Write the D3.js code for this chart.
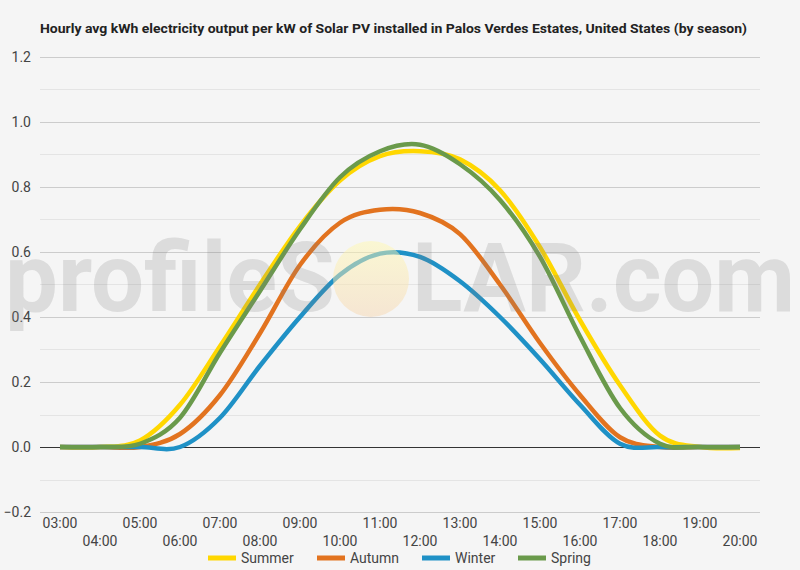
<!DOCTYPE html>
<html>
<head>
<meta charset="utf-8">
<script src="https://cdn.jsdelivr.net/npm/d3@7"></script>
<style>
  body { margin: 0; background: #f5f5f5; }
  text { font-family: Roboto, "Noto Sans", sans-serif; }
</style>
</head>
<body>
<div id="chart"></div>
<script>
// hours on the x axis
var hours = ["03:00", "04:00", "05:00", "06:00", "07:00", "08:00", "09:00", "10:00", "11:00",
  "12:00", "13:00", "14:00", "15:00", "16:00", "17:00", "18:00", "19:00", "20:00"];

// kWh per kW
var summer = [0, 0, 0.02, 0.13, 0.31, 0.50, 0.68, 0.82, 0.895, 0.91, 0.885, 0.79, 0.615, 0.39, 0.19, 0.035, 0, -0.003];
var autumn = [0, 0, 0, 0.04, 0.16, 0.35, 0.56, 0.69, 0.73, 0.72, 0.655, 0.50, 0.32, 0.16, 0.03, 0, 0, 0];
var winter = [0, 0, 0, 0, 0.09, 0.25, 0.40, 0.53, 0.595, 0.585, 0.51, 0.40, 0.27, 0.13, 0.01, 0, 0, 0];
var spring = [0, 0, 0.01, 0.09, 0.29, 0.48, 0.67, 0.83, 0.91, 0.93, 0.87, 0.76, 0.585, 0.34, 0.12, 0.01, 0, 0];

var seasonNames = ["Summer", "Autumn", "Winter", "Spring"];
var seasonColors = ["#ffd700", "#e2731f", "#1f91c6", "#6a9a4b"];
var yTicks = [-0.2, 0, 0.2, 0.4, 0.6, 0.8, 1.0, 1.2];

var title = "Hourly avg kWh electricity output per kW of Solar PV installed in Palos Verdes Estates, United States (by season)";

var svgWidth = 800;
var svgHeight = 570;

var margin = { top: 57, right: 40, bottom: 58, left: 40 };
var width = svgWidth - margin.left - margin.right;
var height = svgHeight - margin.top - margin.bottom;

var svg = d3.select("#chart")
  .append("svg")
  .attr("width", svgWidth)
  .attr("height", svgHeight)
  .style("background", "#f5f5f5");

// title
svg.append("text")
  .attr("x", 40)
  .attr("y", 33)
  .attr("font-size", "13px")
  .attr("font-weight", "bold")
  .attr("fill", "#222")
  .attr("textLength", 707)
  .attr("lengthAdjust", "spacingAndGlyphs")
  .text(title);

var chartGroup = svg.append("g")
  .attr("transform", `translate(${margin.left}, ${margin.top})`);

var xScale = d3.scaleBand()
  .domain(hours)
  .range([0, width]);

var yScale = d3.scaleLinear()
  .domain([-0.2, 1.2])
  .range([height, 0]);

// minor gridlines between the labelled ones
chartGroup.selectAll(".minor")
  .data(d3.range(-0.1, 1.2, 0.2))
  .enter()
  .append("line")
  .attr("x1", 0)
  .attr("x2", width)
  .attr("y1", d => Math.round(yScale(d)) + 0.5)
  .attr("y2", d => Math.round(yScale(d)) + 0.5)
  .attr("stroke", "#e4e4e4");

// y axis with full width gridlines
var leftAxis = d3.axisLeft(yScale)
  .tickValues(yTicks)
  .tickSize(-width)
  .tickPadding(9)
  .tickFormat(d3.format(".1f"));

var yAxis = chartGroup.append("g")
  .call(leftAxis);

yAxis.select(".domain").remove();
yAxis.selectAll(".tick line")
  .attr("stroke", d => d === 0 ? "#333" : "#cccccc");
yAxis.selectAll(".tick text")
  .attr("font-size", "14px")
  .attr("fill", "#444")
  .attr("font-family", "Roboto, sans-serif");

// x axis, labels on two staggered rows
var bottomAxis = d3.axisBottom(xScale)
  .tickSize(0)
  .tickPadding(6);

var xAxis = chartGroup.append("g")
  .attr("transform", `translate(0, ${height})`)
  .call(bottomAxis);

xAxis.select(".domain").remove();
xAxis.selectAll(".tick text")
  .attr("font-size", "14px")
  .attr("fill", "#444")
  .attr("font-family", "Roboto, sans-serif")
  .attr("dy", (d, i) => i % 2 === 0 ? "0.71em" : "1.98em");

// season lines
var line = d3.line()
  .x((d, i) => xScale(hours[i]) + xScale.bandwidth() / 2)
  .y(d => yScale(d))
  .curve(d3.curveCardinal.tension(0));

var seasons = [summer, autumn, winter, spring];

chartGroup.selectAll(".season")
  .data(seasons)
  .enter()
  .append("path")
  .attr("d", d => line(d))
  .attr("fill", "none")
  .attr("stroke", (d, i) => seasonColors[i])
  .attr("stroke-width", 4.5)
  .attr("stroke-linejoin", "round");

// watermark over the plot
var defs = svg.append("defs");
var sunGrad = defs.append("linearGradient")
  .attr("id", "sun")
  .attr("x1", 0).attr("y1", 0)
  .attr("x2", 0).attr("y2", 1);
sunGrad.append("stop").attr("offset", "0%").attr("stop-color", "#fff9b0").attr("stop-opacity", 0.5);
sunGrad.append("stop").attr("offset", "100%").attr("stop-color", "#f6d6b0").attr("stop-opacity", 0.5);

var mark = svg.append("g").style("pointer-events", "none");

mark.append("circle")
  .attr("cx", 371)
  .attr("cy", 279)
  .attr("r", 38)
  .attr("fill", "url(#sun)");

mark.append("text")
  .attr("x", 5)
  .attr("y", 311)
  .attr("font-size", "96px")
  .attr("font-weight", "bold")
  .attr("font-family", "Lato, 'Open Sans', sans-serif")
  .attr("fill", "#808080")
  .attr("fill-opacity", 0.21)
  .attr("textLength", 330)
  .attr("lengthAdjust", "spacingAndGlyphs")
  .text("profileS");

mark.append("text")
  .attr("x", 412)
  .attr("y", 311)
  .attr("font-size", "96px")
  .attr("font-weight", "bold")
  .attr("font-family", "Lato, 'Open Sans', sans-serif")
  .attr("fill", "#808080")
  .attr("fill-opacity", 0.21)
  .attr("textLength", 383)
  .attr("lengthAdjust", "spacingAndGlyphs")
  .text("LAR.com");

// legend
var legendX = [208, 317, 422, 518];

var legend = svg.append("g")
  .attr("transform", "translate(0, 558)");

var items = legend.selectAll(".item")
  .data(seasonNames)
  .enter()
  .append("g")
  .attr("transform", (d, i) => `translate(${legendX[i]}, 0)`);

items.append("line")
  .attr("x1", 0)
  .attr("x2", 28)
  .attr("stroke", (d, i) => seasonColors[i])
  .attr("stroke-width", 5);

items.append("text")
  .attr("x", 33)
  .attr("dy", "0.35em")
  .attr("font-size", "14px")
  .attr("fill", "#444")
  .text(d => d);
</script>
</body>
</html>
